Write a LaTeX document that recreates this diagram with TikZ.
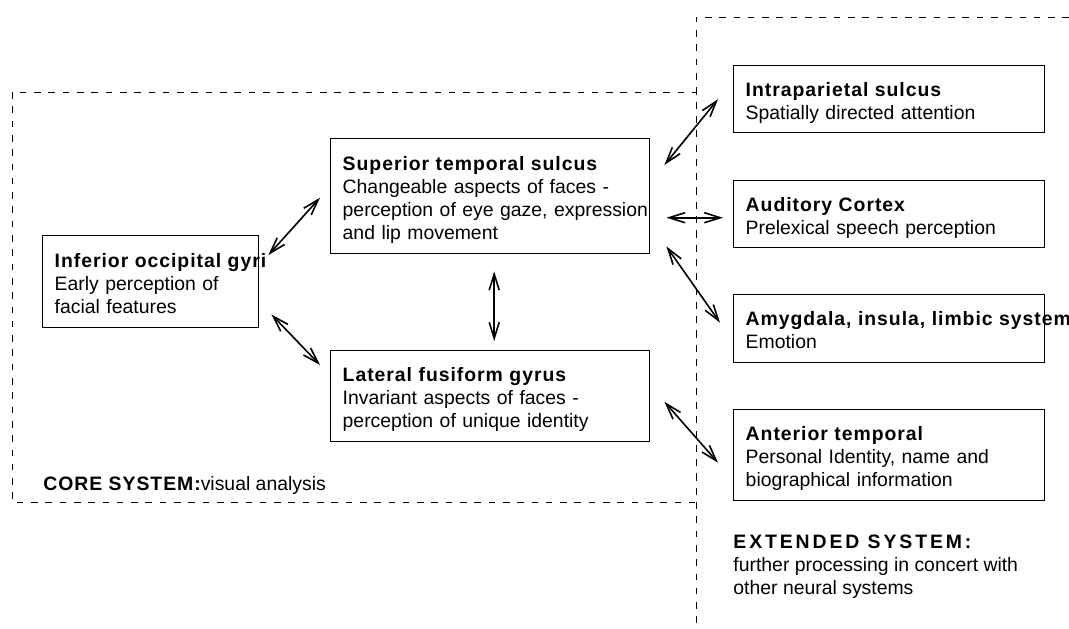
\documentclass[tikz,border=0pt]{standalone}
\usepackage{fontspec}
\setmainfont{Liberation Sans}
\newfontfamily\headfont[LetterSpace=5]{Liberation Sans}
\newfontfamily\bigheadfont[LetterSpace=15]{Liberation Sans}
\usetikzlibrary{arrows.meta}

\newcommand{\areatext}[2]{\noindent\begin{tabular}{@{}l@{}}\rule{0pt}{12pt}{\headfont\bfseries #1}\\#2\end{tabular}}

\begin{document}
\begin{tikzpicture}[x=0.5pt, y=-0.5pt,
    every node/.style={font=\fontsize{9.7}{11.5}\selectfont},
    region/.style={draw, line width=0.7pt, anchor=north west, align=left,
        inner xsep=6pt, inner ysep=0pt},
    link/.style={{Straight Barb[length=8pt,width=5pt]}-{Straight Barb[length=8pt,width=5pt]},
        line width=0.8pt},
    system/.style={dash pattern=on 3.3pt off 3.85pt, line width=0.5pt}]

    \useasboundingbox (0,0) rectangle (1069,628);

    % 1. Dashed outlines of the two systems
    \draw[system] (12,92) rectangle (696,502);
    \draw[system] (1069,17) -- (696,17) -- (696,628);

    % 2. Core system
    \node[region, text width=96pt, minimum height=46pt] (iog) at (42,235)
        {\areatext{Inferior occipital gyri}{Early perception of\\facial features}};
    \node[region, text width=147.5pt, minimum height=57.5pt] (sts) at (330,138)
        {\areatext{Superior temporal sulcus}{Changeable aspects of faces -\\perception of eye gaze, expression\\and lip movement}};
    \node[region, text width=147.5pt, minimum height=45.5pt] (lfg) at (330,350)
        {\areatext{Lateral fusiform gyrus}{Invariant aspects of faces -\\perception of unique identity}};

    % 3. Extended system
    \node[region, text width=143.5pt, minimum height=33.5pt] (ips) at (733,65)
        {\areatext{Intraparietal sulcus}{Spatially directed attention}};
    \node[region, text width=143.5pt, minimum height=33.5pt] (aud) at (733,180)
        {\areatext{Auditory Cortex}{Prelexical speech perception}};
    \node[region, text width=143.5pt, minimum height=34pt] (amy) at (733,294)
        {\areatext{Amygdala, insula, limbic system}{Emotion}};
    \node[region, text width=143.5pt, minimum height=45.5pt] (ant) at (733,409)
        {\areatext{Anterior temporal}{Personal Identity, name and\\biographical information}};

    % 4. Links
    \draw[link] ([xshift=4.5pt,yshift=-10pt]iog.north east) -- ([xshift=-5pt,yshift=-0.75pt]sts.west);
    \draw[link] ([xshift=6pt,yshift=7pt]iog.south east) -- ([xshift=-5pt,yshift=-7.5pt]lfg.north west);
    \draw[link] ([xshift=2pt,yshift=-8.5pt]sts.south) -- ([xshift=2pt,yshift=4.5pt]lfg.north);
    \draw[link] ([xshift=7pt,yshift=-13.5pt]sts.north east) -- ([xshift=-7.5pt]ips.west);
    \draw[link] ([xshift=8pt,yshift=-10.75pt]sts.east) -- ([xshift=-5pt,yshift=-1.75pt]aud.west);
    \draw[link] ([xshift=8pt,yshift=4pt]sts.south east) -- ([xshift=-6.5pt,yshift=3pt]amy.west);
    \draw[link] ([xshift=7pt,yshift=-2.75pt]lfg.east) -- ([xshift=-7.5pt,yshift=-3.75pt]ant.west);

    % 5. System labels
    \node[anchor=base west, inner sep=0pt] (corelabel) at (43,490)
        {{\headfont\bfseries CORE SYSTEM:}visual analysis};
    \node[anchor=base west, inner sep=0pt] (extlabel) at (733,548)
        {\begin{tabular}[t]{@{}l@{}}{\bigheadfont\bfseries EXTENDED SYSTEM:}\\further processing in concert with\\other neural systems\end{tabular}};
\end{tikzpicture}
\end{document}
